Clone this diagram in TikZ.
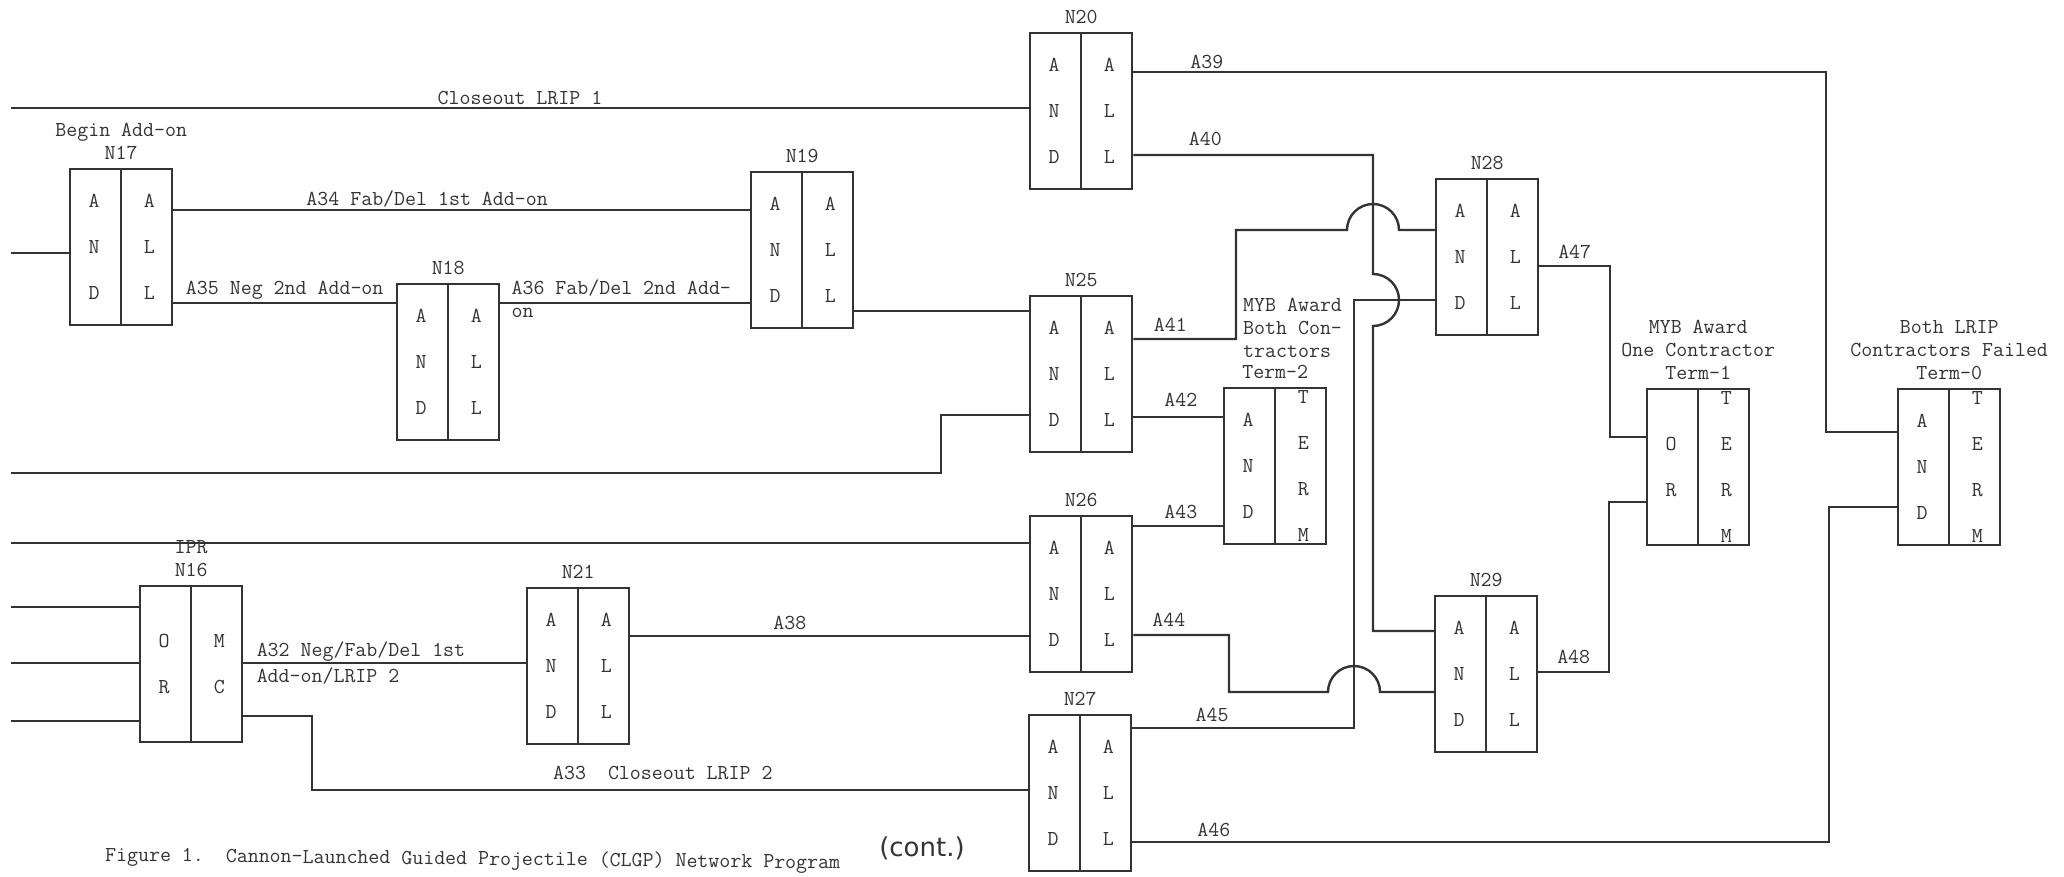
\documentclass[tikz,border=0pt]{standalone}
\usepackage{fontspec}
\newfontfamily\handfont{DejaVu Sans}
\definecolor{ink}{HTML}{333333}

\newcommand{\gatefont}{\fontsize{21.3}{46}\selectfont\ttfamily}
\newcommand{\tagfont}{\fontsize{21.3}{23}\selectfont\ttfamily}

\tikzset{
  gate/.style={draw=ink, line width=2.4pt, minimum width=102pt, minimum height=156pt,
    anchor=north west, inner sep=0pt},
  wire/.style={draw=ink, line width=2.4pt},
  letters/.style={font=\gatefont, align=center, inner sep=0pt, text=ink},
  tag/.style={font=\tagfont, align=center, inner sep=0pt, text=ink},
  arclbl/.style={tag, anchor=base, yshift=7pt},
}

% one gate: name, north west corner, title, left column, right column
\newcommand{\gatebox}[5]{%
  \node[gate, label={[tag, label distance=8pt]above:{#3}}] (#1) at (#2) {};
  \draw[wire] (#1.north) -- (#1.south);
  \node[letters] at ([xshift=25pt]#1.west) {#4};
  \node[letters] at ([xshift=-24pt]#1.east) {#5};
}

\begin{document}
\begin{tikzpicture}[x=1pt, y=1pt]
  \useasboundingbox (0,0) rectangle (2064,-877);

  % Gates
  \gatebox{N17}{69,-168}{Begin Add-on\\N17}{A\\N\\D}{A\\L\\L}
  \gatebox{N18}{396,-283}{N18}{A\\N\\D}{A\\L\\L}
  \gatebox{N19}{750,-171}{N19}{A\\N\\D}{A\\L\\L}
  \gatebox{N20}{1029,-32}{N20}{A\\N\\D}{A\\L\\L}
  \gatebox{N25}{1029,-295}{N25}{A\\N\\D}{A\\L\\L}
  \gatebox{N26}{1029,-515}{N26}{A\\N\\D}{A\\L\\L}
  \gatebox{N27}{1028,-714}{N27}{A\\N\\D}{A\\L\\L}
  \gatebox{N16}{139,-585}{IPR\\N16}{O\\R}{M\\C}
  \gatebox{N21}{526,-587}{N21}{A\\N\\D}{A\\L\\L}
  \gatebox{N28}{1435,-178}{N28}{A\\N\\D}{A\\L\\L}
  \gatebox{N29}{1434,-595}{N29}{A\\N\\D}{A\\L\\L}
  \gatebox{T2}{1223,-387}{Term-2}{A\\N\\D}{T\\E\\R\\M}
  \gatebox{T1}{1646,-388}{MYB Award\\One Contractor\\Term-1}{O\\R}{T\\E\\R\\M}
  \gatebox{T0}{1897,-388}{Both LRIP\\Contractors Failed\\Term-0}{A\\N\\D}{T\\E\\R\\M}
  \node[tag, align=left, anchor=south west] (t2note) at (1243,-358) {MYB Award\\Both Con-\\tractors};

  % Inputs from the left edge
  \foreach \name/\y in {cIn/108, aIn/253, bIn/473, dIn/543, oIn1/607, oIn2/663, oIn3/721}
    \coordinate (\name) at (11,-\y);
  \draw[wire] (cIn) -- (N20.west |- cIn) node[arclbl, midway, yshift=-4pt] {Closeout LRIP 1};
  \draw[wire] (aIn) -- (N17.west |- aIn);
  \draw[wire] (bIn) -- (941,-473) -- (941,-415) -- (N25.west |- 0,-415);
  \draw[wire] (dIn) -- (N26.west |- dIn);
  \foreach \k in {1,2,3}
    \draw[wire] (oIn\k) -- (N16.west |- oIn\k);

  % Add-on branch
  \draw[wire] (N17.east |- 0,-210) -- (N19.west |- 0,-210)
    node[arclbl, pos=0.44, yshift=-3pt] {A34 Fab/Del 1st Add-on};
  \draw[wire] (N17.east |- 0,-303) -- (N18.west |- 0,-303)
    node[arclbl, midway, yshift=1pt] {A35 Neg 2nd Add-on};
  \draw[wire] (N18.east |- 0,-303) -- (N19.west |- 0,-303)
    node[arclbl, pos=0.04, anchor=base west, yshift=1pt] {A36 Fab/Del 2nd Add-}
    node[arclbl, pos=0.04, anchor=base west, yshift=-22pt] {on};
  \draw[wire] (N19.east |- 0,-311) -- (N25.west |- 0,-311);

  % N20 outputs
  \draw[wire] (N20.east |- 0,-72) -- (1826,-72) node[arclbl, pos=0.106, yshift=-4pt] {A39}
    -- (1826,-432) -- (T0.west |- 0,-432);
  \draw[wire] (N20.east |- 0,-155) -- (1373,-155) node[arclbl, pos=0.3, yshift=2pt] {A40}
    -- (1373,-274) arc[start angle=90, end angle=-90, radius=26pt]
    -- (1373,-631) -- (N29.west |- 0,-631);

  % N25 outputs
  \draw[wire] (N25.east |- 0,-339) -- (1236,-339) node[arclbl, pos=0.36, yshift=1pt] {A41}
    -- (1236,-230) -- (1347,-230) arc[start angle=180, end angle=0, radius=26pt]
    -- (N28.west |- 0,-230);
  \draw[wire] (N25.east |- 0,-417) -- (T2.west |- 0,-417) node[arclbl, pos=0.53, yshift=4pt] {A42};

  % N26 outputs
  \draw[wire] (N26.east |- 0,-526) -- (T2.west |- 0,-526) node[arclbl, pos=0.53, yshift=1pt] {A43};
  \draw[wire] (N26.east |- 0,-635) -- (1229,-635) node[arclbl, pos=0.37, yshift=2pt] {A44}
    -- (1229,-692) -- (1328,-692) arc[start angle=180, end angle=0, radius=26pt]
    -- (N29.west |- 0,-692);

  % N27 outputs
  \draw[wire] (N27.east |- 0,-728) -- (1354,-728) node[arclbl, pos=0.36] {A45}
    -- (1354,-300) -- (N28.west |- 0,-300);
  \draw[wire] (N27.east |- 0,-842) -- (1829,-842) node[arclbl, pos=0.117, yshift=-1pt] {A46}
    -- (1829,-507) -- (T0.west |- 0,-507);

  % N28 and N29 into Term-1
  \draw[wire] (N28.east |- 0,-266) -- (1610,-266) node[arclbl, midway] {A47}
    -- (1610,-437) -- (T1.west |- 0,-437);
  \draw[wire] (N29.east |- 0,-672) -- (1609,-672) node[arclbl, midway, yshift=2pt] {A48}
    -- (1609,-502) -- (T1.west |- 0,-502);

  % IPR branch
  \draw[wire] (N16.east |- 0,-663) -- (N21.west |- 0,-663)
    node[arclbl, pos=0.043, anchor=base west] {A32 Neg/Fab/Del 1st}
    node[arclbl, pos=0.043, anchor=base west, yshift=-26pt] {Add-on/LRIP 2};
  \draw[wire] (N16.east |- 0,-716) -- (312,-716) -- (312,-790) -- (N27.west |- 0,-790)
    node[arclbl, pos=0.49, yshift=4pt] {A33\ \ Closeout LRIP 2};
  \draw[wire] (N21.east |- 0,-636) -- (N26.west |- 0,-636) node[arclbl, pos=0.40] {A38};

  % Caption
  \node[tag, anchor=base west, rotate=-0.6] (caption) at (105,-861)
    {Figure 1.\ \ Cannon-Launched Guided Projectile (CLGP) Network Program};
  \node[font=\handfont\fontsize{26}{26}\selectfont, text=ink, inner sep=0pt] (cont) at (922,-848) {(cont.)};
\end{tikzpicture}
\end{document}
